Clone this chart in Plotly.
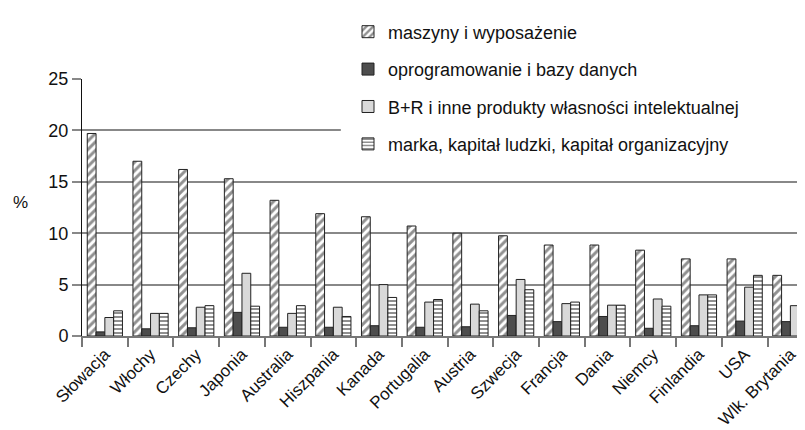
import plotly.graph_objects as go

countries = ["Słowacja", "Włochy", "Czechy", "Japonia", "Australia", "Hiszpania", "Kanada",
             "Portugalia", "Austria", "Szwecja", "Francja", "Dania", "Niemcy", "Finlandia",
             "USA", "Wlk. Brytania"]

maszyny = [19.7, 17.0, 16.2, 15.3, 13.2, 11.9, 11.6, 10.7, 10.0, 9.75, 8.85, 8.85, 8.35, 7.5, 7.5, 5.9]
oprogramowanie = [0.4, 0.7, 0.8, 2.3, 0.85, 0.85, 1.0, 0.85, 0.9, 2.0, 1.4, 1.9, 0.75, 1.0, 1.45, 1.4]
br = [1.8, 2.2, 2.8, 6.1, 2.2, 2.8, 5.0, 3.3, 3.1, 5.5, 3.15, 3.0, 3.6, 4.0, 4.75, 2.95]
marka = [2.45, 2.2, 2.95, 2.9, 2.95, 1.9, 3.75, 3.55, 2.45, 4.5, 3.3, 3.0, 2.9, 4.0, 5.9, 5.35]

series_names = ["maszyny i wyposażenie", "oprogramowanie i bazy danych",
                "B+R i inne produkty własności intelektualnej",
                "marka, kapitał ludzki, kapitał organizacyjny"]
y_ticks = [0, 5, 10, 15, 20, 25]

FONT = "Liberation Sans, Arial, Helvetica, sans-serif"
DARK = "#222222"

fig = go.Figure()
styles = [
    dict(color="white", pattern=dict(shape="/", fgcolor=DARK, bgcolor="white", size=6, solidity=0.5, fillmode="overlay")),
    dict(color="#4d4d4d"),
    dict(color="#d9d9d9"),
    dict(color="white", pattern=dict(shape="-", fgcolor=DARK, bgcolor="white", size=4, solidity=0.5, fillmode="overlay")),
]
for i, (name, vals) in enumerate(zip(series_names, [maszyny, oprogramowanie, br, marka])):
    m = dict(line=dict(color=DARK, width=1))
    m.update(styles[i])
    fig.add_trace(go.Bar(x=countries, y=vals, name=name, marker=m, legendgroup=f"g{i}"))

# page body has an 8px margin, so the figure is 797x422 and offsets are reduced by 8px
fig.update_layout(
    template="none",
    width=797, height=422,
    margin=dict(l=74, r=0, t=71, b=94, autoexpand=False),
    paper_bgcolor="white", plot_bgcolor="white",
    barmode="group", bargap=0.23, bargroupgap=0,
    font=dict(family=FONT, size=17, color="#111"),
    showlegend=True,
    legend=dict(xref="container", yref="container", x=0.4266, y=0.987,
                xanchor="left", yanchor="top", bgcolor="white",
                font=dict(size=18, family=FONT, color="#111"),
                tracegroupgap=11, traceorder="grouped"),
    shapes=[dict(type="rect", xref="paper", yref="paper", x0=0.358, x1=1.01, y0=0.665, y1=1.02,
                 fillcolor="white", line=dict(width=0), layer="above")],
    annotations=[dict(text="%", xref="paper", yref="paper", x=-0.085, y=0.52,
                      showarrow=False, xanchor="center", yanchor="middle",
                      font=dict(size=17, family=FONT, color="#111"))],
)
fig.update_xaxes(
    type="category", range=[-0.5, 15.32], tickangle=-45, automargin=False,
    showline=True, linecolor="#777", linewidth=1.5,
    ticks="outside", tickson="boundaries", ticklen=9, tickcolor="#777", tickwidth=1.5,
    showgrid=False, zeroline=False, tickfont=dict(size=17, family=FONT, color="#111"),
)
fig.update_yaxes(
    range=[0, 25], tickvals=y_ticks, automargin=False,
    showgrid=True, gridcolor="#888", gridwidth=1.5,
    zeroline=False, showline=True, linecolor="#111", linewidth=1,
    ticks="outside", ticklen=9, tickcolor="#888", tickwidth=1.5,
    tickfont=dict(size=18, family=FONT, color="#111"),
)
fig.write_html("out.html")
